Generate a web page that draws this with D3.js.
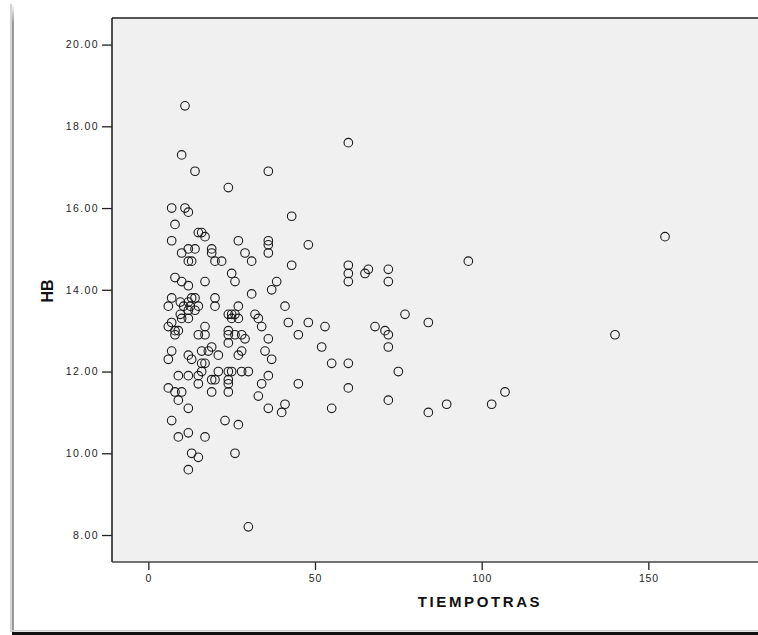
<!DOCTYPE html>
<html>
<head>
<meta charset="utf-8">
<script src="https://cdn.jsdelivr.net/npm/d3@7/dist/d3.min.js"></script>
<style>
  html, body { margin: 0; padding: 0; background: #ffffff; }
  svg { display: block; }
  .tick text { font-family: "Liberation Sans", Arial, sans-serif; fill: #1e1e1e; }
</style>
</head>
<body>
<svg id="chart" width="758" height="635"></svg>
<script>
// TIEMPOTRAS (x) against HB (y), one entry per case
const tiempoTras = [
  11, 10, 14, 36, 24, 7, 11, 12, 8, 15, 16, 17, 7, 27, 36, 36, 36, 10, 12, 14,
  19, 19, 29, 31, 12, 13, 20, 22, 8, 25, 10, 12, 17, 26, 38.5, 37, 31, 7, 13, 14,
  6, 9.6, 10.6, 12, 15, 12.6, 20, 20, 12, 14, 9.6, 10, 12, 24, 25, 26, 27, 27, 25, 32,
  33, 34, 7, 6, 8, 9, 8, 17, 15, 17, 24, 24, 26, 28, 29, 24, 36, 7, 6, 12,
  13, 16, 18, 19, 21, 16, 17, 28, 27, 35, 37, 16, 9, 12, 15, 21, 24, 25, 28, 30,
  19, 20, 24, 24, 15, 36, 34, 33, 6, 8, 10, 9, 19, 24, 12, 36, 40, 7, 23, 27,
  12, 9, 17, 13, 15, 26, 12, 30, 60, 43, 48, 43, 60, 60, 60, 66, 65, 72, 72, 41,
  77, 84, 42, 48, 53, 68, 71, 72, 45, 52, 72, 55, 60, 75, 45, 60, 72, 89.5, 84, 41,
  55, 155, 96, 140, 103, 107
];
const hb = [
  18.5, 17.3, 16.9, 16.9, 16.5, 16.0, 16.0, 15.9, 15.6, 15.4, 15.4, 15.3, 15.2, 15.2, 15.2, 15.1, 14.9, 14.9, 15.0, 15.0,
  15.0, 14.9, 14.9, 14.7, 14.7, 14.7, 14.7, 14.7, 14.3, 14.4, 14.2, 14.1, 14.2, 14.2, 14.2, 14.0, 13.9, 13.8, 13.8, 13.8,
  13.6, 13.7, 13.6, 13.7, 13.6, 13.6, 13.8, 13.6, 13.5, 13.5, 13.4, 13.3, 13.3, 13.4, 13.4, 13.4, 13.6, 13.3, 13.3, 13.4,
  13.3, 13.1, 13.2, 13.1, 13.0, 13.0, 12.9, 13.1, 12.9, 12.9, 13.0, 12.9, 12.9, 12.9, 12.8, 12.7, 12.8, 12.5, 12.3, 12.4,
  12.3, 12.5, 12.5, 12.6, 12.4, 12.2, 12.2, 12.5, 12.4, 12.5, 12.3, 12.0, 11.9, 11.9, 11.9, 12.0, 12.0, 12.0, 12.0, 12.0,
  11.8, 11.8, 11.8, 11.7, 11.7, 11.9, 11.7, 11.4, 11.6, 11.5, 11.5, 11.3, 11.5, 11.5, 11.1, 11.1, 11.0, 10.8, 10.8, 10.7,
  10.5, 10.4, 10.4, 10.0, 9.9, 10.0, 9.6, 8.2, 17.6, 15.8, 15.1, 14.6, 14.6, 14.4, 14.2, 14.5, 14.4, 14.5, 14.2, 13.6,
  13.4, 13.2, 13.2, 13.2, 13.1, 13.1, 13.0, 12.9, 12.9, 12.6, 12.6, 12.2, 12.2, 12.0, 11.7, 11.6, 11.3, 11.2, 11.0, 11.2,
  11.1, 15.3, 14.7, 12.9, 11.2, 11.5
];
const xTicks = [0, 50, 100, 150];
const yTicks = [8, 10, 12, 14, 16, 18, 20];
const xTitle = "TIEMPOTRAS";
const yTitle = "HB";

const points = tiempoTras.map((t, i) => ({ x: t, y: hb[i] }));

const W = 758, H = 635;
const plot = { left: 112, right: 758, top: 18, bottom: 562 };

const svg = d3.select("#chart");

// window frame: shaded left edge and heavy bottom rule
const defs = svg.append("defs");
const fade = defs.append("linearGradient").attr("id", "edgeFade")
  .attr("x1", 0).attr("y1", 0).attr("x2", 0).attr("y2", 1);
fade.append("stop").attr("offset", "0").attr("stop-color", "#9a9a9a").attr("stop-opacity", 0);
fade.append("stop").attr("offset", "0.03").attr("stop-color", "#9a9a9a").attr("stop-opacity", 1);
fade.append("stop").attr("offset", "1").attr("stop-color", "#9a9a9a").attr("stop-opacity", 1);
svg.append("rect").attr("x", 10).attr("y", 4).attr("width", 2).attr("height", 628)
  .attr("fill", "#d4d4d4");
svg.append("rect").attr("x", 12).attr("y", 4).attr("width", 2).attr("height", 628)
  .attr("fill", "url(#edgeFade)");
svg.append("rect").attr("x", 12).attr("y", 630).attr("width", W - 12).attr("height", 1.5)
  .attr("fill", "#cfcfcf");
svg.append("rect").attr("x", 12).attr("y", 632).attr("width", W - 12).attr("height", 3)
  .attr("fill", "#111");

const x = d3.scaleLinear().domain([-10.9, 182.9]).range([plot.left, plot.right]);
const y = d3.scaleLinear().domain([7.34, 20.65]).range([plot.bottom, plot.top]);

// plot area
svg.append("rect")
  .attr("x", plot.left).attr("y", plot.top)
  .attr("width", plot.right - plot.left).attr("height", plot.bottom - plot.top)
  .attr("fill", "#f0f0f0");

// axes
const yAxis = svg.append("g")
  .attr("transform", `translate(${plot.left},0)`)
  .call(d3.axisLeft(y).tickValues(yTicks).tickSize(10).tickPadding(3)
    .tickFormat(d3.format(".2f")));
yAxis.select(".domain").remove();
yAxis.selectAll(".tick line").attr("stroke", "#222").attr("stroke-width", 1.3);
yAxis.selectAll(".tick text").attr("font-size", "10.5px").attr("letter-spacing", "1.4px");

const xAxis = svg.append("g")
  .attr("transform", `translate(0,${plot.bottom})`)
  .call(d3.axisBottom(x).tickValues(xTicks).tickSize(8).tickPadding(5)
    .tickFormat(d3.format("d")));
xAxis.select(".domain").remove();
xAxis.selectAll(".tick line").attr("stroke", "#222").attr("stroke-width", 1.3);
xAxis.selectAll(".tick text").attr("font-size", "10.5px").attr("letter-spacing", "0.8px");

// plot frame
svg.append("line").attr("x1", plot.left).attr("x2", plot.right)
  .attr("y1", plot.top).attr("y2", plot.top)
  .attr("stroke", "#555").attr("stroke-width", 2);
svg.append("line").attr("x1", plot.left).attr("x2", plot.left)
  .attr("y1", plot.top).attr("y2", plot.bottom)
  .attr("stroke", "#1a1a1a").attr("stroke-width", 1.5);
svg.append("line").attr("x1", plot.left).attr("x2", plot.right)
  .attr("y1", plot.bottom).attr("y2", plot.bottom)
  .attr("stroke", "#444").attr("stroke-width", 1.5);

// markers
svg.append("g").selectAll("circle")
  .data(points)
  .join("circle")
  .attr("cx", d => x(d.x))
  .attr("cy", d => y(d.y))
  .attr("r", 4.3)
  .attr("fill", "none")
  .attr("stroke", "#1a1a1a")
  .attr("stroke-width", 1.1);

// axis titles
svg.append("text")
  .attr("x", 480).attr("y", 607)
  .attr("text-anchor", "middle")
  .attr("font-family", "'Liberation Sans', Arial, sans-serif")
  .attr("font-weight", "bold").attr("font-size", "15px")
  .attr("letter-spacing", "2.6px")
  .attr("fill", "#111")
  .text(xTitle);

svg.append("text")
  .attr("transform", `translate(53,291) rotate(-90)`)
  .attr("text-anchor", "middle")
  .attr("font-family", "'Liberation Sans', Arial, sans-serif")
  .attr("font-weight", "bold").attr("font-size", "16px")
  .attr("fill", "#111")
  .text(yTitle);
</script>
</body>
</html>
